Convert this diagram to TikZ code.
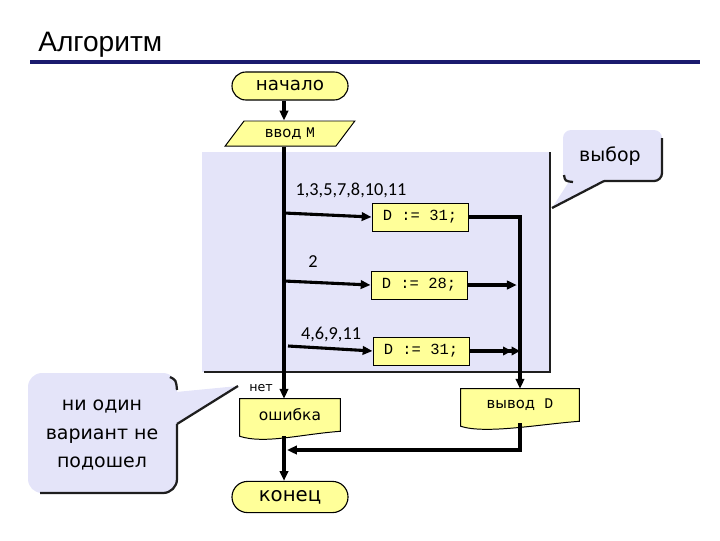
\documentclass[tikz,border=0pt]{standalone}
\usepackage{fontspec}
\setmainfont{DejaVu Sans}
\setmonofont{Liberation Mono}
\newfontfamily\headfont{Liberation Sans}
\newfontfamily\casefont{Carlito}
\usetikzlibrary{shapes.geometric,arrows.meta,backgrounds}
\definecolor{blockfill}{HTML}{FFFF99}
\definecolor{panelfill}{HTML}{E4E4F9}
\definecolor{headline}{HTML}{1A1A6E}
\definecolor{edgedark}{HTML}{1E1E1E}
\begin{document}
\begin{tikzpicture}[x=0.025cm,y=-0.025cm,
    terminal/.style={rectangle,rounded corners=0.35cm,draw,fill=blockfill,line width=0.8pt,minimum width=2.9cm,minimum height=0.7cm,font=\fontsize{13}{15}\selectfont},
    process/.style={rectangle,draw,fill=blockfill,line width=0.7pt,minimum width=2.4cm,minimum height=0.7cm,font=\ttfamily\fontsize{11}{13}\selectfont},
    inout/.style={trapezium,trapezium left angle=60,trapezium right angle=120,trapezium stretches=true,draw,fill=blockfill,line width=0.7pt,minimum width=3.25cm,minimum height=0.625cm,font=\fontsize{10.5}{12}\selectfont},
    docshape/.style={rectangle,minimum height=0.8cm},
    flow/.style={line width=2.2pt,-{Triangle[length=7pt,width=6pt]}},
    caselabel/.style={font=\casefont\fontsize{13}{15}\selectfont},
    callouttext/.style={font=\fontsize{13.5}{20}\selectfont,align=center},
    shadowedge/.style={edgedark,line width=1.6pt}]
    \useasboundingbox (0,0) rectangle (720,540);
    % title
    \node (title) [font=\headfont\fontsize{20}{24}\selectfont,anchor=base west,inner sep=0pt] at (38,51) {Алгоритм};
    \draw[headline,line width=2.2pt] (30,62) -- (700,62);
    % switch panel
    \fill[panelfill] (202,152) rectangle (550,372);
    \draw[shadowedge] (550,152) -- (550,372) -- (204,372);
    % blocks
    \node (start) [terminal] at (290,86) {начало};
    \node (in) [inout] at (290,133.5) {ввод \texttt{M}};
    \node (c1) [process] at (420,217) {D := 31;};
    \node (c2) [process] at (419,285) {D := 28;};
    \node (c3) [process] at (421,351) {D := 31;};
    \node (err) [docshape,minimum width=2.5cm,font=\fontsize{11}{13}\selectfont] at (290,415) {ошибка};
    \node (out) [docshape,minimum width=2.95cm,font=\fontsize{10.5}{12}\selectfont] at (520,405) {вывод\ \ \texttt{D}};
    \node (end) [terminal,rounded corners=0.39cm,minimum height=0.78cm,font=\fontsize{14}{16}\selectfont] at (290,497) {конец};
    \begin{scope}[on background layer]
    \foreach \n in {err,out}
        \draw[line width=0.7pt,fill=blockfill] (\n.south east) -- (\n.north east) -- (\n.north west) -- (\n.south west) -- ++(0,5) .. controls +(25,8) and +(-40,3) .. (\n.south east) -- cycle;
    \end{scope}
    % labels
    \node (l1) [caselabel] at (351,190) {1,3,5,7,8,10,11};
    \node (l2) [caselabel] at (313,262) {2};
    \node (l3) [caselabel] at (331,334) {4,6,9,11};
    \node (no) [font=\fontsize{9}{11}\selectfont] at (261,388) {нет};
    % connectors
    \coordinate (trunk) at (284,0);
    \coordinate (b1) at (284,213);
    \coordinate (b2) at (284,281);
    \coordinate (b3) at (288,346);
    \coordinate (merge) at (287,450);
    \draw[flow] (start.south -| trunk) -- (in.north -| trunk);
    \draw[flow] (in.south -| trunk) -- (err.north -| trunk);
    \draw[flow] (b1) -- (c1.west);
    \draw[flow] (b2) -- (c2.west);
    \draw[flow] (b3) -- (c3.west);
    \draw[flow] (c1.east) -| (out.north);
    \draw[flow] (c2.east) -- ([xshift=-0.08cm]c2.east -| out.north);
    \draw[line width=2.2pt,-{Triangle[length=6pt,width=6pt]Triangle[length=6pt,width=6pt]}] (c3.east) -- (c3.east -| out.north);
    \draw[flow] ([yshift=-0.12cm]err.south -| trunk) -- (end.north -| trunk);
    \draw[flow] ([yshift=-0.05cm]out.south) |- (merge);
    % callouts
    \fill[panelfill,rounded corners=0.2cm] (563,130) rectangle (662,181);
    \fill[panelfill] (570,180) -- (552,208) -- (604,180) -- cycle;
    \draw[shadowedge,rounded corners=0.2cm] (662,138) -- (662,181) -- (604,181);
    \draw[shadowedge] (604,181) -- (552,208);
    \draw[shadowedge] (564,175) .. controls (565,181) .. (573,182);
    \node (choice) [callouttext] at (610,156) {выбор};
    \fill[panelfill,rounded corners=0.35cm] (28,373) rectangle (177,493);
    \fill[panelfill] (176,392) -- (238,386) -- (176,424) -- cycle;
    \draw[shadowedge] (177,424) -- (238,386);
    \draw[shadowedge,rounded corners=0.35cm] (177,424) -- (177,493) -- (40,493);
    \draw[shadowedge] (170,377) .. controls (176,380) .. (177,390);
    \node (none) [callouttext] at (102,435) {ни один\\вариант не\\подошел};
\end{tikzpicture}
\end{document}
